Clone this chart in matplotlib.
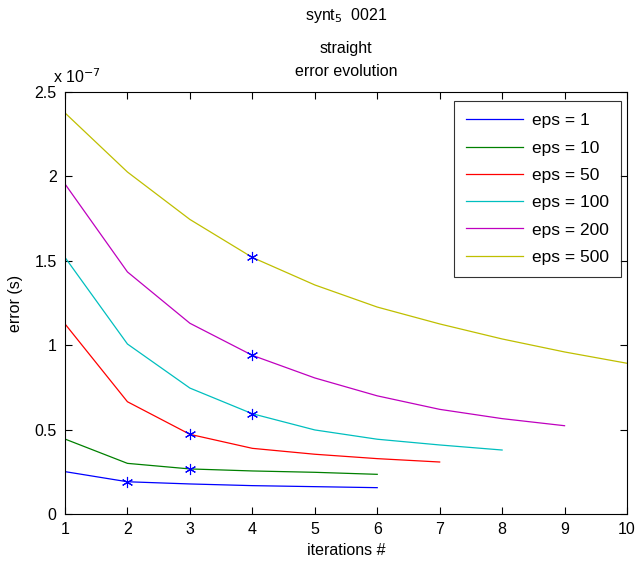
import matplotlib
matplotlib.use("Agg")
import matplotlib.pyplot as plt

plt.rcParams['font.family'] = ['Liberation Sans', 'DejaVu Sans']

iters = list(range(1, 11))
labels = ["eps = 1", "eps = 10", "eps = 50", "eps = 100", "eps = 200", "eps = 500"]
colors = [(0, 0, 1), (0, 0.5, 0), (1, 0, 0), (0, 0.75, 0.75), (0.75, 0, 0.75), (0.75, 0.75, 0)]

# errors in units of 1e-7 s
err_eps1 = [0.251, 0.191, 0.178, 0.168, 0.162, 0.156]
err_eps10 = [0.444, 0.300, 0.267, 0.255, 0.247, 0.235]
err_eps50 = [1.126, 0.665, 0.472, 0.389, 0.354, 0.328, 0.308]
err_eps100 = [1.520, 1.007, 0.746, 0.594, 0.498, 0.443, 0.409, 0.379]
err_eps200 = [1.955, 1.434, 1.130, 0.940, 0.806, 0.700, 0.620, 0.565, 0.523]
err_eps500 = [2.376, 2.026, 1.745, 1.520, 1.357, 1.226, 1.126, 1.037, 0.960, 0.893]
series = [err_eps1, err_eps10, err_eps50, err_eps100, err_eps200, err_eps500]

# iteration at which a star marker is placed on each curve
star_iter = [2, 3, 3, 4, 4, 4]

fig = plt.figure(figsize=(6.37, 5.70), dpi=100)
ax = fig.add_axes([65/637, 1 - 514/570, (627-65)/637, (514-92)/570])

for vals, lab, col in zip(series, labels, colors):
    xs = iters[:len(vals)]
    ax.plot(xs, [v * 1e-7 for v in vals], color=col, lw=0.9, label=lab)

for vals, si in zip(series, star_iter):
    ax.plot(si, vals[si - 1] * 1e-7, marker=(6, 2, 0), color='blue', ms=8, mew=0.8, ls='none')

ax.set_xlim(1, 10)
ax.set_ylim(0, 2.5e-7)
ax.set_xticks(iters)
yt = [0, 0.5, 1, 1.5, 2, 2.5]
ax.set_yticks([v * 1e-7 for v in yt])
ax.set_yticklabels(['0', '0.5', '1', '1.5', '2', '2.5'])
ax.tick_params(direction='in', top=True, right=True, labelsize=11.5, length=5, pad=6)
for s in ax.spines.values():
    s.set_linewidth(0.8)

ax.set_xlabel('iterations #', fontsize=11.5, labelpad=4)
ax.set_ylabel('error (s)', fontsize=11.5, labelpad=8)

fig.text(53/637, 1 - 83/570, r'x 10$^{-7}$', fontsize=11.5, ha='left', va='baseline')
fig.text(346/637, 1 - 20/570, r'synt$_{5}$  0021', fontsize=11.5, ha='center', va='baseline')
fig.text(346/637, 1 - 53/570, 'straight', fontsize=11.5, ha='center', va='baseline')
fig.text(346/637, 1 - 76/570, 'error evolution', fontsize=11.5, ha='center', va='baseline')

leg = ax.legend(loc='upper right', fontsize=12.5, frameon=True, fancybox=False,
                edgecolor='black', handlelength=3.3, labelspacing=0.7,
                borderpad=0.7, handletextpad=0.5, borderaxespad=0,
                bbox_to_anchor=((621-65)/562, (514-101)/422))
leg.get_frame().set_linewidth(0.8)

fig.savefig('out.png', dpi=100)
